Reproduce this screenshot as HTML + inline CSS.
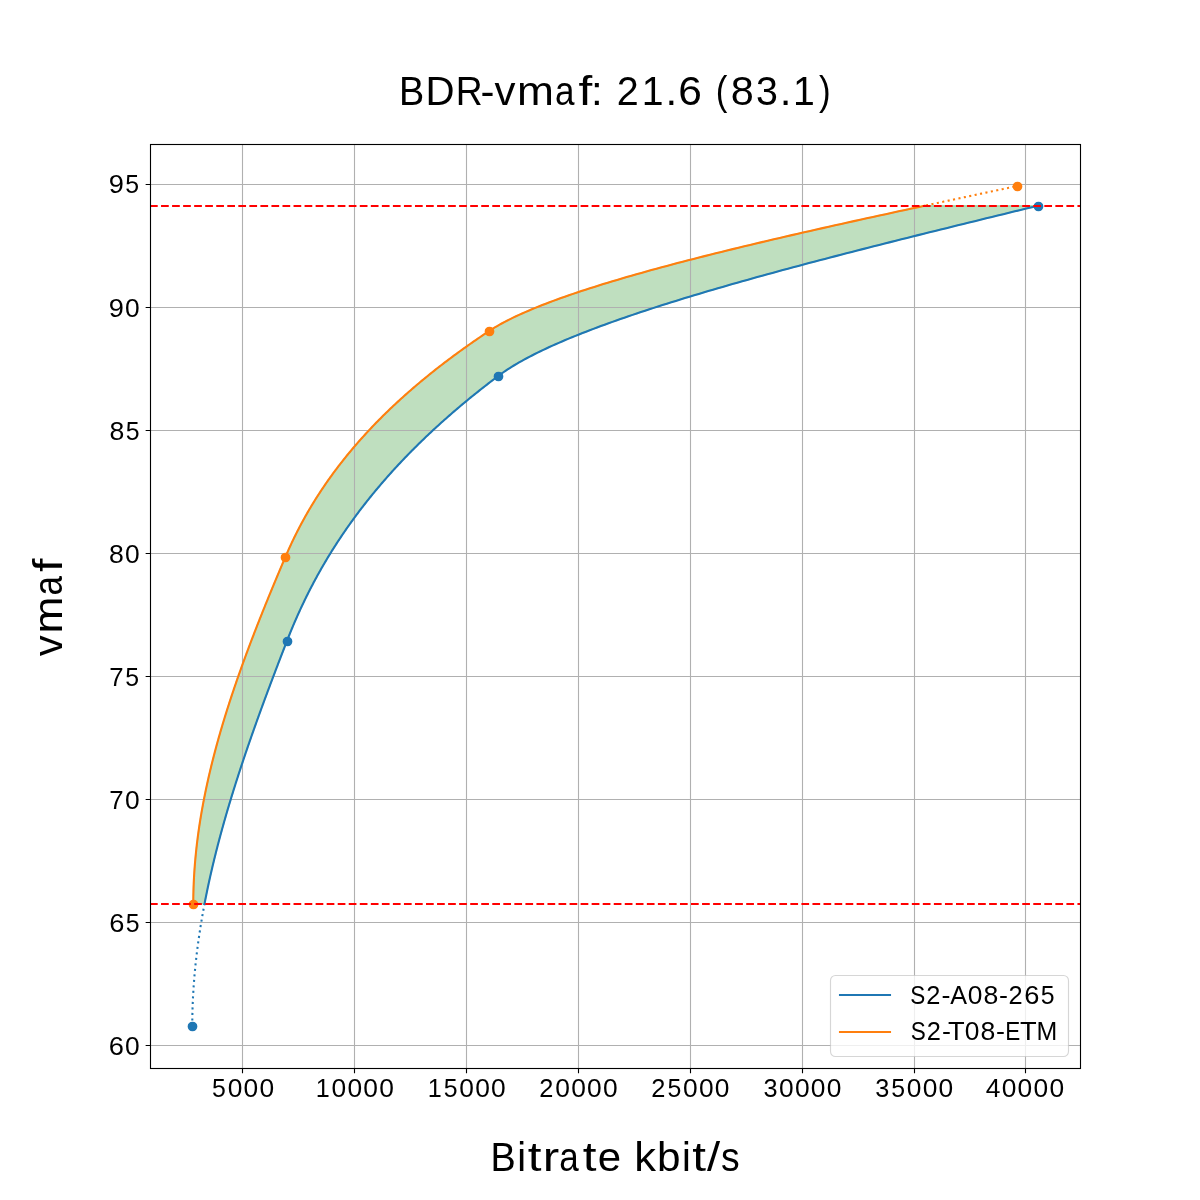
<!DOCTYPE html>
<html><head><meta charset="utf-8"><title>BDR-vmaf</title><style>
html,body{margin:0;padding:0;background:#fff;width:1200px;height:1200px;overflow:hidden}
svg{display:block}
svg{will-change:transform}
text{font-family:"Liberation Sans",sans-serif;fill:#000}
</style></head><body>
<svg width="1200" height="1200" viewBox="0 0 1200 1200">
<rect width="1200" height="1200" fill="#fff"/>
<path d="M193.27,903.87 L193.28,902.12 L193.29,900.37 L193.30,898.62 L193.32,896.87 L193.35,895.12 L193.39,893.37 L193.43,891.62 L193.48,889.87 L193.53,888.12 L193.59,886.37 L193.66,884.62 L193.73,882.87 L193.81,881.13 L193.90,879.38 L193.99,877.63 L194.09,875.88 L194.19,874.13 L194.30,872.38 L194.42,870.63 L194.54,868.88 L194.67,867.13 L194.80,865.38 L194.94,863.63 L195.09,861.88 L195.24,860.13 L195.40,858.38 L195.56,856.63 L195.73,854.88 L195.91,853.13 L196.09,851.38 L196.27,849.63 L196.46,847.88 L196.66,846.13 L196.86,844.38 L197.07,842.63 L197.29,840.88 L197.51,839.13 L197.73,837.38 L197.96,835.63 L198.20,833.88 L198.44,832.13 L198.69,830.39 L198.94,828.64 L199.20,826.89 L199.46,825.14 L199.73,823.39 L200.00,821.64 L200.28,819.89 L200.57,818.14 L200.85,816.39 L201.15,814.64 L201.45,812.89 L201.75,811.14 L202.06,809.39 L202.38,807.64 L202.70,805.89 L203.02,804.14 L203.35,802.39 L203.68,800.64 L204.02,798.89 L204.37,797.14 L204.72,795.39 L205.07,793.64 L205.43,791.89 L205.79,790.14 L206.16,788.39 L206.53,786.64 L206.91,784.89 L207.29,783.14 L207.68,781.39 L208.07,779.64 L208.46,777.90 L208.86,776.15 L209.27,774.40 L209.68,772.65 L210.09,770.90 L210.51,769.15 L210.93,767.40 L211.36,765.65 L211.79,763.90 L212.22,762.15 L212.66,760.40 L213.11,758.65 L213.56,756.90 L214.01,755.15 L214.46,753.40 L214.92,751.65 L215.39,749.90 L215.86,748.15 L216.33,746.40 L216.81,744.65 L217.29,742.90 L217.77,741.15 L218.26,739.40 L218.75,737.65 L219.25,735.90 L219.75,734.15 L220.25,732.40 L220.76,730.65 L221.27,728.90 L221.79,727.15 L222.31,725.41 L222.83,723.66 L223.36,721.91 L223.89,720.16 L224.42,718.41 L224.96,716.66 L225.50,714.91 L226.04,713.16 L226.59,711.41 L227.14,709.66 L227.70,707.91 L228.26,706.16 L228.82,704.41 L229.38,702.66 L229.95,700.91 L230.52,699.16 L231.10,697.41 L231.67,695.66 L232.25,693.91 L232.84,692.16 L233.43,690.41 L234.02,688.66 L234.61,686.91 L235.21,685.16 L235.81,683.41 L236.41,681.66 L237.02,679.91 L237.62,678.16 L238.24,676.41 L238.85,674.66 L239.47,672.92 L240.09,671.17 L240.71,669.42 L241.34,667.67 L241.97,665.92 L242.60,664.17 L243.23,662.42 L243.87,660.67 L244.51,658.92 L245.15,657.17 L245.79,655.42 L246.44,653.67 L247.09,651.92 L247.74,650.17 L248.40,648.42 L249.06,646.67 L249.71,644.92 L250.38,643.17 L251.04,641.42 L251.71,639.67 L252.38,637.92 L253.05,636.17 L253.72,634.42 L254.40,632.67 L255.08,630.92 L255.76,629.17 L256.44,627.42 L257.12,625.67 L257.81,623.92 L258.50,622.17 L259.19,620.43 L259.88,618.68 L260.58,616.93 L261.27,615.18 L261.97,613.43 L262.67,611.68 L263.37,609.93 L264.08,608.18 L264.78,606.43 L265.49,604.68 L266.20,602.93 L266.91,601.18 L267.63,599.43 L268.34,597.68 L269.06,595.93 L269.77,594.18 L270.49,592.43 L271.21,590.68 L271.94,588.93 L272.66,587.18 L273.39,585.43 L274.11,583.68 L274.84,581.93 L275.57,580.18 L276.30,578.43 L277.03,576.68 L277.77,574.93 L278.50,573.18 L279.24,571.43 L279.98,569.68 L280.72,567.94 L281.46,566.19 L282.20,564.44 L282.94,562.69 L283.68,560.94 L284.43,559.19 L285.17,557.44 L285.92,555.69 L286.68,553.94 L287.45,552.19 L288.23,550.44 L289.01,548.69 L289.81,546.94 L290.62,545.19 L291.43,543.44 L292.26,541.69 L293.09,539.94 L293.94,538.19 L294.80,536.44 L295.66,534.69 L296.54,532.94 L297.43,531.19 L298.32,529.44 L299.23,527.69 L300.15,525.94 L301.08,524.19 L302.02,522.44 L302.97,520.69 L303.93,518.94 L304.90,517.20 L305.89,515.45 L306.88,513.70 L307.89,511.95 L308.91,510.20 L309.94,508.45 L310.98,506.70 L312.03,504.95 L313.10,503.20 L314.17,501.45 L315.26,499.70 L316.36,497.95 L317.47,496.20 L318.60,494.45 L319.74,492.70 L320.89,490.95 L322.05,489.20 L323.22,487.45 L324.41,485.70 L325.61,483.95 L326.82,482.20 L328.04,480.45 L329.28,478.70 L330.53,476.95 L331.80,475.20 L333.07,473.45 L334.36,471.70 L335.67,469.95 L336.98,468.20 L338.32,466.45 L339.66,464.71 L341.02,462.96 L342.39,461.21 L343.77,459.46 L345.17,457.71 L346.59,455.96 L348.02,454.21 L349.46,452.46 L350.91,450.71 L352.38,448.96 L353.87,447.21 L355.37,445.46 L356.88,443.71 L358.41,441.96 L359.96,440.21 L361.51,438.46 L363.09,436.71 L364.68,434.96 L366.28,433.21 L367.90,431.46 L369.53,429.71 L371.18,427.96 L372.85,426.21 L374.53,424.46 L376.23,422.71 L377.94,420.96 L379.66,419.21 L381.41,417.46 L383.17,415.71 L384.94,413.96 L386.74,412.22 L388.54,410.47 L390.37,408.72 L392.21,406.97 L394.07,405.22 L395.94,403.47 L397.83,401.72 L399.74,399.97 L401.66,398.22 L403.60,396.47 L405.56,394.72 L407.54,392.97 L409.53,391.22 L411.54,389.47 L413.57,387.72 L415.61,385.97 L417.67,384.22 L419.75,382.47 L421.85,380.72 L423.96,378.97 L426.10,377.22 L428.25,375.47 L430.42,373.72 L432.60,371.97 L434.81,370.22 L437.03,368.47 L439.27,366.72 L441.53,364.97 L443.81,363.22 L446.11,361.47 L448.42,359.73 L450.76,357.98 L453.11,356.23 L455.48,354.48 L457.88,352.73 L460.29,350.98 L462.72,349.23 L465.17,347.48 L467.63,345.73 L470.12,343.98 L472.63,342.23 L475.16,340.48 L477.70,338.73 L480.27,336.98 L482.86,335.23 L485.46,333.48 L488.09,331.73 L490.75,329.98 L493.54,328.23 L496.46,326.48 L499.51,324.73 L502.68,322.98 L505.99,321.23 L509.42,319.48 L512.97,317.73 L516.65,315.98 L520.45,314.23 L524.37,312.48 L528.40,310.73 L532.56,308.98 L536.82,307.24 L541.20,305.49 L545.69,303.74 L550.29,301.99 L555.00,300.24 L559.81,298.49 L564.73,296.74 L569.75,294.99 L574.87,293.24 L580.10,291.49 L585.42,289.74 L590.84,287.99 L596.35,286.24 L601.95,284.49 L607.65,282.74 L613.44,280.99 L619.32,279.24 L625.28,277.49 L631.33,275.74 L637.46,273.99 L643.67,272.24 L649.97,270.49 L656.34,268.74 L662.79,266.99 L669.32,265.24 L675.92,263.49 L682.59,261.74 L689.33,259.99 L696.14,258.24 L703.02,256.49 L709.97,254.75 L716.98,253.00 L724.05,251.25 L731.18,249.50 L738.37,247.75 L745.62,246.00 L752.93,244.25 L760.29,242.50 L767.70,240.75 L775.16,239.00 L782.68,237.25 L790.24,235.50 L797.85,233.75 L805.50,232.00 L813.19,230.25 L820.93,228.50 L828.71,226.75 L836.52,225.00 L844.37,223.25 L852.26,221.50 L860.18,219.75 L868.13,218.00 L876.11,216.25 L884.12,214.50 L892.16,212.75 L900.22,211.00 L908.31,209.25 L916.41,207.50 L924.54,205.75 L1037.73,205.75 L1030.56,207.50 L1023.39,209.25 L1016.22,211.00 L1009.06,212.75 L1001.90,214.50 L994.75,216.25 L987.60,218.00 L980.46,219.75 L973.33,221.50 L966.21,223.25 L959.10,225.00 L952.01,226.75 L944.92,228.50 L937.85,230.25 L930.80,232.00 L923.75,233.75 L916.73,235.50 L909.73,237.25 L902.74,239.00 L895.77,240.75 L888.83,242.50 L881.90,244.25 L875.00,246.00 L868.12,247.75 L861.27,249.50 L854.44,251.25 L847.64,253.00 L840.87,254.75 L834.13,256.49 L827.41,258.24 L820.73,259.99 L814.08,261.74 L807.47,263.49 L800.88,265.24 L794.33,266.99 L787.82,268.74 L781.35,270.49 L774.91,272.24 L768.51,273.99 L762.15,275.74 L755.84,277.49 L749.56,279.24 L743.33,280.99 L737.14,282.74 L731.00,284.49 L724.91,286.24 L718.86,287.99 L712.86,289.74 L706.90,291.49 L701.00,293.24 L695.15,294.99 L689.36,296.74 L683.61,298.49 L677.92,300.24 L672.29,301.99 L666.71,303.74 L661.18,305.49 L655.72,307.24 L650.32,308.98 L644.97,310.73 L639.69,312.48 L634.47,314.23 L629.32,315.98 L624.22,317.73 L619.20,319.48 L614.24,321.23 L609.34,322.98 L604.52,324.73 L599.76,326.48 L595.08,328.23 L590.47,329.98 L585.93,331.73 L581.46,333.48 L577.07,335.23 L572.75,336.98 L568.51,338.73 L564.34,340.48 L560.26,342.23 L556.25,343.98 L552.33,345.73 L548.49,347.48 L544.73,349.23 L541.05,350.98 L537.46,352.73 L533.95,354.48 L530.53,356.23 L527.20,357.98 L523.96,359.73 L520.80,361.47 L517.74,363.22 L514.77,364.97 L511.89,366.72 L509.11,368.47 L506.42,370.22 L503.82,371.97 L501.32,373.72 L498.92,375.47 L496.60,377.22 L494.28,378.97 L491.99,380.72 L489.70,382.47 L487.44,384.22 L485.19,385.97 L482.95,387.72 L480.73,389.47 L478.52,391.22 L476.33,392.97 L474.15,394.72 L471.99,396.47 L469.84,398.22 L467.70,399.97 L465.58,401.72 L463.48,403.47 L461.39,405.22 L459.31,406.97 L457.25,408.72 L455.20,410.47 L453.17,412.22 L451.15,413.96 L449.14,415.71 L447.15,417.46 L445.17,419.21 L443.21,420.96 L441.26,422.71 L439.32,424.46 L437.40,426.21 L435.49,427.96 L433.59,429.71 L431.71,431.46 L429.84,433.21 L427.98,434.96 L426.14,436.71 L424.31,438.46 L422.50,440.21 L420.70,441.96 L418.91,443.71 L417.13,445.46 L415.37,447.21 L413.62,448.96 L411.88,450.71 L410.15,452.46 L408.44,454.21 L406.74,455.96 L405.05,457.71 L403.38,459.46 L401.72,461.21 L400.07,462.96 L398.43,464.71 L396.81,466.45 L395.19,468.20 L393.59,469.95 L392.01,471.70 L390.43,473.45 L388.87,475.20 L387.31,476.95 L385.77,478.70 L384.25,480.45 L382.73,482.20 L381.23,483.95 L379.73,485.70 L378.25,487.45 L376.78,489.20 L375.33,490.95 L373.88,492.70 L372.44,494.45 L371.02,496.20 L369.61,497.95 L368.21,499.70 L366.82,501.45 L365.44,503.20 L364.07,504.95 L362.71,506.70 L361.37,508.45 L360.03,510.20 L358.71,511.95 L357.40,513.70 L356.09,515.45 L354.80,517.20 L353.52,518.94 L352.25,520.69 L350.99,522.44 L349.74,524.19 L348.50,525.94 L347.27,527.69 L346.05,529.44 L344.84,531.19 L343.65,532.94 L342.46,534.69 L341.28,536.44 L340.11,538.19 L338.95,539.94 L337.81,541.69 L336.67,543.44 L335.54,545.19 L334.42,546.94 L333.31,548.69 L332.21,550.44 L331.12,552.19 L330.04,553.94 L328.97,555.69 L327.90,557.44 L326.85,559.19 L325.81,560.94 L324.77,562.69 L323.75,564.44 L322.73,566.19 L321.72,567.94 L320.72,569.68 L319.74,571.43 L318.75,573.18 L317.78,574.93 L316.82,576.68 L315.86,578.43 L314.92,580.18 L313.98,581.93 L313.05,583.68 L312.13,585.43 L311.22,587.18 L310.32,588.93 L309.42,590.68 L308.53,592.43 L307.65,594.18 L306.78,595.93 L305.92,597.68 L305.06,599.43 L304.22,601.18 L303.38,602.93 L302.55,604.68 L301.72,606.43 L300.91,608.18 L300.10,609.93 L299.30,611.68 L298.50,613.43 L297.72,615.18 L296.94,616.93 L296.17,618.68 L295.40,620.43 L294.65,622.17 L293.90,623.92 L293.15,625.67 L292.42,627.42 L291.69,629.17 L290.97,630.92 L290.25,632.67 L289.54,634.42 L288.84,636.17 L288.15,637.92 L287.46,639.67 L286.78,641.42 L286.10,643.17 L285.42,644.92 L284.74,646.67 L284.07,648.42 L283.39,650.17 L282.71,651.92 L282.04,653.67 L281.36,655.42 L280.69,657.17 L280.02,658.92 L279.35,660.67 L278.67,662.42 L278.00,664.17 L277.34,665.92 L276.67,667.67 L276.00,669.42 L275.33,671.17 L274.67,672.92 L274.00,674.66 L273.34,676.41 L272.68,678.16 L272.02,679.91 L271.36,681.66 L270.70,683.41 L270.04,685.16 L269.39,686.91 L268.73,688.66 L268.08,690.41 L267.42,692.16 L266.77,693.91 L266.12,695.66 L265.47,697.41 L264.83,699.16 L264.18,700.91 L263.54,702.66 L262.89,704.41 L262.25,706.16 L261.61,707.91 L260.97,709.66 L260.33,711.41 L259.70,713.16 L259.07,714.91 L258.43,716.66 L257.80,718.41 L257.17,720.16 L256.54,721.91 L255.92,723.66 L255.29,725.41 L254.67,727.15 L254.05,728.90 L253.43,730.65 L252.81,732.40 L252.20,734.15 L251.58,735.90 L250.97,737.65 L250.36,739.40 L249.75,741.15 L249.15,742.90 L248.54,744.65 L247.94,746.40 L247.34,748.15 L246.74,749.90 L246.14,751.65 L245.55,753.40 L244.96,755.15 L244.37,756.90 L243.78,758.65 L243.19,760.40 L242.61,762.15 L242.03,763.90 L241.45,765.65 L240.87,767.40 L240.30,769.15 L239.72,770.90 L239.15,772.65 L238.58,774.40 L238.02,776.15 L237.46,777.90 L236.89,779.64 L236.34,781.39 L235.78,783.14 L235.23,784.89 L234.67,786.64 L234.13,788.39 L233.58,790.14 L233.04,791.89 L232.49,793.64 L231.96,795.39 L231.42,797.14 L230.89,798.89 L230.36,800.64 L229.83,802.39 L229.30,804.14 L228.78,805.89 L228.26,807.64 L227.74,809.39 L227.23,811.14 L226.72,812.89 L226.21,814.64 L225.70,816.39 L225.20,818.14 L224.70,819.89 L224.20,821.64 L223.71,823.39 L223.21,825.14 L222.73,826.89 L222.24,828.64 L221.76,830.39 L221.28,832.13 L220.80,833.88 L220.33,835.63 L219.86,837.38 L219.39,839.13 L218.93,840.88 L218.47,842.63 L218.01,844.38 L217.56,846.13 L217.11,847.88 L216.66,849.63 L216.21,851.38 L215.77,853.13 L215.34,854.88 L214.90,856.63 L214.47,858.38 L214.04,860.13 L213.62,861.88 L213.20,863.63 L212.78,865.38 L212.37,867.13 L211.96,868.88 L211.55,870.63 L211.15,872.38 L210.75,874.13 L210.35,875.88 L209.96,877.63 L209.57,879.38 L209.19,881.13 L208.81,882.87 L208.43,884.62 L208.06,886.37 L207.69,888.12 L207.32,889.87 L206.96,891.62 L206.60,893.37 L206.24,895.12 L205.89,896.87 L205.55,898.62 L205.20,900.37 L204.86,902.12 L204.53,903.87 Z" fill="#008000" fill-opacity="0.25" stroke="#008000" stroke-opacity="0.25" stroke-width="1.389" stroke-linejoin="round"/>
<path d="M242.5,144 V1068 M354.5,144 V1068 M466.5,144 V1068 M578.5,144 V1068 M690.5,144 V1068 M802.5,144 V1068 M914.5,144 V1068 M1025.5,144 V1068 M150,1045.5 H1080 M150,922.5 H1080 M150,799.5 H1080 M150,676.5 H1080 M150,553.5 H1080 M150,430.5 H1080 M150,307.5 H1080 M150,184.5 H1080" stroke="#b0b0b0" stroke-width="1.11" fill="none"/>
<path d="M192.27,1026.00 L192.27,1024.97 L192.28,1023.95 L192.28,1022.92 L192.29,1021.89 L192.30,1020.87 L192.31,1019.84 L192.32,1018.82 L192.33,1017.79 L192.35,1016.76 L192.37,1015.74 L192.39,1014.71 L192.41,1013.68 L192.43,1012.66 L192.46,1011.63 L192.49,1010.61 L192.51,1009.58 L192.55,1008.55 L192.58,1007.53 L192.61,1006.50 L192.65,1005.47 L192.69,1004.45 L192.73,1003.42 L192.77,1002.40 L192.81,1001.37 L192.86,1000.34 L192.91,999.32 L192.95,998.29 L193.00,997.26 L193.06,996.24 L193.11,995.21 L193.17,994.18 L193.23,993.16 L193.29,992.13 L193.35,991.11 L193.41,990.08 L193.48,989.05 L193.54,988.03 L193.61,987.00 L193.68,985.97 L193.75,984.95 L193.83,983.92 L193.90,982.90 L193.98,981.87 L194.06,980.84 L194.14,979.82 L194.22,978.79 L194.30,977.76 L194.39,976.74 L194.48,975.71 L194.57,974.69 L194.66,973.66 L194.75,972.63 L194.84,971.61 L194.94,970.58 L195.04,969.55 L195.14,968.53 L195.24,967.50 L195.34,966.47 L195.44,965.45 L195.55,964.42 L195.66,963.40 L195.76,962.37 L195.88,961.34 L195.99,960.32 L196.10,959.29 L196.22,958.26 L196.33,957.24 L196.45,956.21 L196.57,955.19 L196.69,954.16 L196.82,953.13 L196.94,952.11 L197.07,951.08 L197.20,950.05 L197.33,949.03 L197.46,948.00 L197.59,946.98 L197.73,945.95 L197.86,944.92 L198.00,943.90 L198.14,942.87 L198.28,941.84 L198.42,940.82 L198.57,939.79 L198.71,938.76 L198.86,937.74 L199.01,936.71 L199.16,935.69 L199.31,934.66 L199.46,933.63 L199.61,932.61 L199.77,931.58 L199.93,930.55 L200.09,929.53 L200.25,928.50 L200.41,927.48 L200.57,926.45 L200.74,925.42 L200.90,924.40 L201.07,923.37 L201.24,922.34 L201.41,921.32 L201.58,920.29 L201.76,919.27 L201.93,918.24 L202.11,917.21 L202.29,916.19 L202.46,915.16 L202.65,914.13 L202.83,913.11 L203.01,912.08 L203.20,911.05 L203.38,910.03 L203.57,909.00 L203.76,907.98 L203.95,906.95 L204.14,905.92 L204.33,904.90 L204.53,903.87" stroke="#1f77b4" stroke-width="2.083" fill="none" stroke-dasharray="2.083 3.438" stroke-linejoin="round"/>
<path d="M204.53,903.87 L204.80,902.47 L205.07,901.07 L205.34,899.67 L205.61,898.27 L205.89,896.88 L206.17,895.48 L206.45,894.08 L206.74,892.68 L207.03,891.28 L207.32,889.88 L207.61,888.48 L207.90,887.08 L208.20,885.68 L208.50,884.28 L208.80,882.89 L209.11,881.49 L209.42,880.09 L209.72,878.69 L210.04,877.29 L210.35,875.89 L210.67,874.49 L210.98,873.09 L211.31,871.69 L211.63,870.29 L211.95,868.90 L212.28,867.50 L212.61,866.10 L212.94,864.70 L213.28,863.30 L213.61,861.90 L213.95,860.50 L214.29,859.10 L214.64,857.70 L214.98,856.30 L215.33,854.90 L215.68,853.51 L216.03,852.11 L216.38,850.71 L216.74,849.31 L217.10,847.91 L217.46,846.51 L217.82,845.11 L218.19,843.71 L218.55,842.31 L218.92,840.91 L219.29,839.52 L219.66,838.12 L220.04,836.72 L220.41,835.32 L220.79,833.92 L221.17,832.52 L221.56,831.12 L221.94,829.72 L222.33,828.32 L222.72,826.92 L223.11,825.53 L223.50,824.13 L223.89,822.73 L224.29,821.33 L224.69,819.93 L225.09,818.53 L225.49,817.13 L225.89,815.73 L226.30,814.33 L226.70,812.93 L227.11,811.53 L227.52,810.14 L227.93,808.74 L228.35,807.34 L228.76,805.94 L229.18,804.54 L229.60,803.14 L230.02,801.74 L230.45,800.34 L230.87,798.94 L231.30,797.54 L231.72,796.15 L232.15,794.75 L232.59,793.35 L233.02,791.95 L233.45,790.55 L233.89,789.15 L234.33,787.75 L234.77,786.35 L235.21,784.95 L235.65,783.55 L236.09,782.16 L236.54,780.76 L236.99,779.36 L237.44,777.96 L237.89,776.56 L238.34,775.16 L238.79,773.76 L239.25,772.36 L239.70,770.96 L240.16,769.56 L240.62,768.16 L241.08,766.77 L241.54,765.37 L242.00,763.97 L242.47,762.57 L242.94,761.17 L243.40,759.77 L243.87,758.37 L244.34,756.97 L244.81,755.57 L245.29,754.17 L245.76,752.78 L246.24,751.38 L246.71,749.98 L247.19,748.58 L247.67,747.18 L248.15,745.78 L248.64,744.38 L249.12,742.98 L249.60,741.58 L250.09,740.18 L250.58,738.79 L251.06,737.39 L251.55,735.99 L252.04,734.59 L252.54,733.19 L253.03,731.79 L253.52,730.39 L254.02,728.99 L254.52,727.59 L255.01,726.19 L255.51,724.80 L256.01,723.40 L256.51,722.00 L257.01,720.60 L257.52,719.20 L258.02,717.80 L258.52,716.40 L259.03,715.00 L259.54,713.60 L260.05,712.20 L260.55,710.80 L261.06,709.41 L261.58,708.01 L262.09,706.61 L262.60,705.21 L263.11,703.81 L263.63,702.41 L264.14,701.01 L264.66,699.61 L265.18,698.21 L265.69,696.81 L266.21,695.42 L266.73,694.02 L267.25,692.62 L267.78,691.22 L268.30,689.82 L268.82,688.42 L269.34,687.02 L269.87,685.62 L270.40,684.22 L270.92,682.82 L271.45,681.43 L271.98,680.03 L272.50,678.63 L273.03,677.23 L273.56,675.83 L274.09,674.43 L274.62,673.03 L275.16,671.63 L275.69,670.23 L276.22,668.83 L276.76,667.43 L277.29,666.04 L277.82,664.64 L278.36,663.24 L278.90,661.84 L279.43,660.44 L279.97,659.04 L280.51,657.64 L281.05,656.24 L281.59,654.84 L282.12,653.44 L282.66,652.05 L283.20,650.65 L283.75,649.25 L284.29,647.85 L284.83,646.45 L285.37,645.05 L285.91,643.65 L286.46,642.25 L287.00,640.85 L287.55,639.45 L288.10,638.06 L288.65,636.66 L289.21,635.26 L289.77,633.86 L290.34,632.46 L290.91,631.06 L291.49,629.66 L292.07,628.26 L292.65,626.86 L293.24,625.46 L293.84,624.06 L294.43,622.67 L295.04,621.27 L295.65,619.87 L296.26,618.47 L296.87,617.07 L297.50,615.67 L298.12,614.27 L298.75,612.87 L299.39,611.47 L300.03,610.07 L300.68,608.68 L301.33,607.28 L301.98,605.88 L302.64,604.48 L303.31,603.08 L303.98,601.68 L304.65,600.28 L305.33,598.88 L306.02,597.48 L306.71,596.08 L307.40,594.69 L308.10,593.29 L308.81,591.89 L309.52,590.49 L310.23,589.09 L310.96,587.69 L311.68,586.29 L312.42,584.89 L313.15,583.49 L313.90,582.09 L314.64,580.69 L315.40,579.30 L316.16,577.90 L316.92,576.50 L317.69,575.10 L318.47,573.70 L319.25,572.30 L320.04,570.90 L320.83,569.50 L321.63,568.10 L322.43,566.70 L323.24,565.31 L324.06,563.91 L324.88,562.51 L325.71,561.11 L326.54,559.71 L327.38,558.31 L328.22,556.91 L329.07,555.51 L329.93,554.11 L330.79,552.71 L331.66,551.32 L332.54,549.92 L333.42,548.52 L334.30,547.12 L335.20,545.72 L336.10,544.32 L337.00,542.92 L337.92,541.52 L338.83,540.12 L339.76,538.72 L340.69,537.32 L341.63,535.93 L342.57,534.53 L343.52,533.13 L344.48,531.73 L345.44,530.33 L346.41,528.93 L347.38,527.53 L348.37,526.13 L349.36,524.73 L350.35,523.33 L351.36,521.94 L352.36,520.54 L353.38,519.14 L354.40,517.74 L355.43,516.34 L356.47,514.94 L357.51,513.54 L358.56,512.14 L359.62,510.74 L360.68,509.34 L361.75,507.95 L362.83,506.55 L363.92,505.15 L365.01,503.75 L366.11,502.35 L367.21,500.95 L368.32,499.55 L369.44,498.15 L370.57,496.75 L371.71,495.35 L372.85,493.95 L374.00,492.56 L375.15,491.16 L376.32,489.76 L377.49,488.36 L378.67,486.96 L379.85,485.56 L381.05,484.16 L382.25,482.76 L383.46,481.36 L384.67,479.96 L385.89,478.57 L387.13,477.17 L388.36,475.77 L389.61,474.37 L390.86,472.97 L392.13,471.57 L393.40,470.17 L394.67,468.77 L395.96,467.37 L397.25,465.97 L398.55,464.58 L399.86,463.18 L401.18,461.78 L402.50,460.38 L403.83,458.98 L405.17,457.58 L406.52,456.18 L407.88,454.78 L409.24,453.38 L410.62,451.98 L412.00,450.59 L413.39,449.19 L414.79,447.79 L416.19,446.39 L417.61,444.99 L419.03,443.59 L420.46,442.19 L421.90,440.79 L423.34,439.39 L424.80,437.99 L426.26,436.59 L427.74,435.20 L429.22,433.80 L430.71,432.40 L432.21,431.00 L433.71,429.60 L435.23,428.20 L436.75,426.80 L438.29,425.40 L439.83,424.00 L441.38,422.60 L442.94,421.21 L444.50,419.81 L446.08,418.41 L447.67,417.01 L449.26,415.61 L450.87,414.21 L452.48,412.81 L454.10,411.41 L455.73,410.01 L457.37,408.61 L459.02,407.22 L460.67,405.82 L462.34,404.42 L464.02,403.02 L465.70,401.62 L467.40,400.22 L469.10,398.82 L470.81,397.42 L472.54,396.02 L474.27,394.62 L476.01,393.22 L477.76,391.83 L479.52,390.43 L481.29,389.03 L483.07,387.63 L484.85,386.23 L486.65,384.83 L488.46,383.43 L490.27,382.03 L492.10,380.63 L493.94,379.23 L495.78,377.84 L497.64,376.44 L499.51,375.04 L501.44,373.64 L503.44,372.24 L505.49,370.84 L507.61,369.44 L509.78,368.04 L512.02,366.64 L514.32,365.24 L516.68,363.85 L519.09,362.45 L521.57,361.05 L524.10,359.65 L526.69,358.25 L529.33,356.85 L532.04,355.45 L534.79,354.05 L537.61,352.65 L540.48,351.25 L543.40,349.85 L546.37,348.46 L549.40,347.06 L552.49,345.66 L555.62,344.26 L558.81,342.86 L562.04,341.46 L565.33,340.06 L568.67,338.66 L572.05,337.26 L575.49,335.86 L578.98,334.47 L582.51,333.07 L586.09,331.67 L589.71,330.27 L593.39,328.87 L597.11,327.47 L600.87,326.07 L604.68,324.67 L608.54,323.27 L612.43,321.87 L616.38,320.48 L620.36,319.08 L624.39,317.68 L628.45,316.28 L632.56,314.88 L636.71,313.48 L640.90,312.08 L645.13,310.68 L649.40,309.28 L653.71,307.88 L658.06,306.48 L662.44,305.09 L666.86,303.69 L671.32,302.29 L675.81,300.89 L680.34,299.49 L684.91,298.09 L689.51,296.69 L694.14,295.29 L698.80,293.89 L703.50,292.49 L708.24,291.10 L713.00,289.70 L717.80,288.30 L722.62,286.90 L727.48,285.50 L732.36,284.10 L737.28,282.70 L742.22,281.30 L747.20,279.90 L752.20,278.50 L757.23,277.11 L762.28,275.71 L767.36,274.31 L772.47,272.91 L777.60,271.51 L782.76,270.11 L787.94,268.71 L793.14,267.31 L798.37,265.91 L803.62,264.51 L808.89,263.11 L814.19,261.72 L819.50,260.32 L824.84,258.92 L830.20,257.52 L835.57,256.12 L840.97,254.72 L846.38,253.32 L851.81,251.92 L857.26,250.52 L862.72,249.12 L868.20,247.73 L873.70,246.33 L879.22,244.93 L884.74,243.53 L890.29,242.13 L895.84,240.73 L901.41,239.33 L906.99,237.93 L912.59,236.53 L918.19,235.13 L923.81,233.74 L929.44,232.34 L935.08,230.94 L940.73,229.54 L946.38,228.14 L952.05,226.74 L957.72,225.34 L963.41,223.94 L969.09,222.54 L974.79,221.14 L980.49,219.75 L986.20,218.35 L991.91,216.95 L997.63,215.55 L1003.35,214.15 L1009.07,212.75 L1014.80,211.35 L1020.53,209.95 L1026.26,208.55 L1031.99,207.15 L1037.73,205.75" stroke="#1f77b4" stroke-width="2.083" fill="none" stroke-linecap="square" stroke-linejoin="round"/>
<circle cx="192.5" cy="1026.5" r="4.167" fill="#1f77b4" stroke="#1f77b4" stroke-width="1.389"/>
<circle cx="287.5" cy="641.5" r="4.167" fill="#1f77b4" stroke="#1f77b4" stroke-width="1.389"/>
<circle cx="498.5" cy="376.5" r="4.167" fill="#1f77b4" stroke="#1f77b4" stroke-width="1.389"/>
<circle cx="1038.5" cy="206.5" r="4.167" fill="#1f77b4" stroke="#1f77b4" stroke-width="1.389"/>
<path d="M924.54,205.75 L925.31,205.59 L926.09,205.42 L926.86,205.26 L927.63,205.09 L928.41,204.92 L929.18,204.76 L929.95,204.59 L930.72,204.43 L931.50,204.26 L932.27,204.09 L933.05,203.93 L933.82,203.76 L934.59,203.60 L935.37,203.43 L936.14,203.26 L936.92,203.10 L937.69,202.93 L938.47,202.77 L939.24,202.60 L940.02,202.43 L940.79,202.27 L941.57,202.10 L942.34,201.94 L943.12,201.77 L943.89,201.60 L944.67,201.44 L945.45,201.27 L946.22,201.11 L947.00,200.94 L947.77,200.77 L948.55,200.61 L949.33,200.44 L950.10,200.28 L950.88,200.11 L951.66,199.94 L952.44,199.78 L953.21,199.61 L953.99,199.45 L954.77,199.28 L955.55,199.11 L956.32,198.95 L957.10,198.78 L957.88,198.62 L958.66,198.45 L959.44,198.28 L960.21,198.12 L960.99,197.95 L961.77,197.79 L962.55,197.62 L963.33,197.45 L964.11,197.29 L964.89,197.12 L965.67,196.96 L966.44,196.79 L967.22,196.62 L968.00,196.46 L968.78,196.29 L969.56,196.13 L970.34,195.96 L971.12,195.79 L971.90,195.63 L972.68,195.46 L973.46,195.30 L974.24,195.13 L975.02,194.96 L975.80,194.80 L976.58,194.63 L977.36,194.47 L978.14,194.30 L978.92,194.13 L979.70,193.97 L980.48,193.80 L981.26,193.64 L982.05,193.47 L982.83,193.30 L983.61,193.14 L984.39,192.97 L985.17,192.81 L985.95,192.64 L986.73,192.47 L987.51,192.31 L988.29,192.14 L989.07,191.98 L989.86,191.81 L990.64,191.64 L991.42,191.48 L992.20,191.31 L992.98,191.15 L993.76,190.98 L994.55,190.81 L995.33,190.65 L996.11,190.48 L996.89,190.32 L997.67,190.15 L998.45,189.98 L999.24,189.82 L1000.02,189.65 L1000.80,189.49 L1001.58,189.32 L1002.36,189.15 L1003.15,188.99 L1003.93,188.82 L1004.71,188.66 L1005.49,188.49 L1006.27,188.32 L1007.06,188.16 L1007.84,187.99 L1008.62,187.83 L1009.40,187.66 L1010.19,187.49 L1010.97,187.33 L1011.75,187.16 L1012.53,187.00 L1013.31,186.83 L1014.10,186.66 L1014.88,186.50 L1015.66,186.33 L1016.44,186.17 L1017.23,186.00" stroke="#ff7f0e" stroke-width="2.083" fill="none" stroke-dasharray="2.083 3.438" stroke-dashoffset="3.991" stroke-linejoin="round"/>
<path d="M193.27,903.87 L193.27,902.47 L193.28,901.07 L193.29,899.67 L193.31,898.27 L193.32,896.88 L193.35,895.48 L193.37,894.08 L193.41,892.68 L193.44,891.28 L193.48,889.88 L193.52,888.48 L193.57,887.08 L193.62,885.68 L193.68,884.28 L193.73,882.89 L193.80,881.49 L193.86,880.09 L193.94,878.69 L194.01,877.29 L194.09,875.89 L194.17,874.49 L194.26,873.09 L194.35,871.69 L194.44,870.29 L194.54,868.90 L194.64,867.50 L194.75,866.10 L194.86,864.70 L194.97,863.30 L195.09,861.90 L195.21,860.50 L195.33,859.10 L195.46,857.70 L195.59,856.30 L195.73,854.90 L195.87,853.51 L196.01,852.11 L196.16,850.71 L196.31,849.31 L196.46,847.91 L196.62,846.51 L196.78,845.11 L196.94,843.71 L197.11,842.31 L197.28,840.91 L197.46,839.52 L197.64,838.12 L197.82,836.72 L198.01,835.32 L198.19,833.92 L198.39,832.52 L198.58,831.12 L198.78,829.72 L198.99,828.32 L199.19,826.92 L199.40,825.53 L199.62,824.13 L199.83,822.73 L200.05,821.33 L200.28,819.93 L200.50,818.53 L200.73,817.13 L200.96,815.73 L201.20,814.33 L201.44,812.93 L201.68,811.53 L201.93,810.14 L202.18,808.74 L202.43,807.34 L202.69,805.94 L202.95,804.54 L203.21,803.14 L203.47,801.74 L203.74,800.34 L204.01,798.94 L204.29,797.54 L204.57,796.15 L204.85,794.75 L205.13,793.35 L205.42,791.95 L205.71,790.55 L206.00,789.15 L206.30,787.75 L206.59,786.35 L206.90,784.95 L207.20,783.55 L207.51,782.16 L207.82,780.76 L208.13,779.36 L208.45,777.96 L208.77,776.56 L209.09,775.16 L209.42,773.76 L209.74,772.36 L210.08,770.96 L210.41,769.56 L210.75,768.16 L211.09,766.77 L211.43,765.37 L211.77,763.97 L212.12,762.57 L212.47,761.17 L212.82,759.77 L213.18,758.37 L213.54,756.97 L213.90,755.57 L214.26,754.17 L214.63,752.78 L215.00,751.38 L215.37,749.98 L215.74,748.58 L216.12,747.18 L216.50,745.78 L216.88,744.38 L217.27,742.98 L217.65,741.58 L218.04,740.18 L218.43,738.79 L218.83,737.39 L219.23,735.99 L219.63,734.59 L220.03,733.19 L220.43,731.79 L220.84,730.39 L221.25,728.99 L221.66,727.59 L222.07,726.19 L222.49,724.80 L222.91,723.40 L223.33,722.00 L223.75,720.60 L224.18,719.20 L224.61,717.80 L225.04,716.40 L225.47,715.00 L225.90,713.60 L226.34,712.20 L226.78,710.80 L227.22,709.41 L227.67,708.01 L228.11,706.61 L228.56,705.21 L229.01,703.81 L229.46,702.41 L229.92,701.01 L230.37,699.61 L230.83,698.21 L231.29,696.81 L231.75,695.42 L232.22,694.02 L232.69,692.62 L233.16,691.22 L233.63,689.82 L234.10,688.42 L234.57,687.02 L235.05,685.62 L235.53,684.22 L236.01,682.82 L236.49,681.43 L236.98,680.03 L237.46,678.63 L237.95,677.23 L238.44,675.83 L238.93,674.43 L239.43,673.03 L239.92,671.63 L240.42,670.23 L240.92,668.83 L241.42,667.43 L241.92,666.04 L242.43,664.64 L242.93,663.24 L243.44,661.84 L243.95,660.44 L244.46,659.04 L244.98,657.64 L245.49,656.24 L246.01,654.84 L246.52,653.44 L247.04,652.05 L247.57,650.65 L248.09,649.25 L248.61,647.85 L249.14,646.45 L249.67,645.05 L250.19,643.65 L250.73,642.25 L251.26,640.85 L251.79,639.45 L252.33,638.06 L252.86,636.66 L253.40,635.26 L253.94,633.86 L254.48,632.46 L255.02,631.06 L255.57,629.66 L256.11,628.26 L256.66,626.86 L257.21,625.46 L257.75,624.06 L258.30,622.67 L258.86,621.27 L259.41,619.87 L259.96,618.47 L260.52,617.07 L261.08,615.67 L261.63,614.27 L262.19,612.87 L262.75,611.47 L263.31,610.07 L263.88,608.68 L264.44,607.28 L265.01,605.88 L265.57,604.48 L266.14,603.08 L266.71,601.68 L267.28,600.28 L267.85,598.88 L268.42,597.48 L268.99,596.08 L269.57,594.69 L270.14,593.29 L270.72,591.89 L271.29,590.49 L271.87,589.09 L272.45,587.69 L273.03,586.29 L273.61,584.89 L274.19,583.49 L274.77,582.09 L275.36,580.69 L275.94,579.30 L276.53,577.90 L277.11,576.50 L277.70,575.10 L278.29,573.70 L278.88,572.30 L279.46,570.90 L280.05,569.50 L280.65,568.10 L281.24,566.70 L281.83,565.31 L282.42,563.91 L283.02,562.51 L283.61,561.11 L284.20,559.71 L284.80,558.31 L285.40,556.91 L286.00,555.51 L286.60,554.11 L287.22,552.71 L287.84,551.32 L288.46,549.92 L289.09,548.52 L289.73,547.12 L290.37,545.72 L291.02,544.32 L291.68,542.92 L292.34,541.52 L293.01,540.12 L293.68,538.72 L294.36,537.32 L295.05,535.93 L295.74,534.53 L296.44,533.13 L297.15,531.73 L297.87,530.33 L298.59,528.93 L299.31,527.53 L300.05,526.13 L300.79,524.73 L301.54,523.33 L302.29,521.94 L303.06,520.54 L303.82,519.14 L304.60,517.74 L305.38,516.34 L306.17,514.94 L306.97,513.54 L307.78,512.14 L308.59,510.74 L309.41,509.34 L310.24,507.95 L311.07,506.55 L311.91,505.15 L312.76,503.75 L313.62,502.35 L314.48,500.95 L315.35,499.55 L316.23,498.15 L317.12,496.75 L318.02,495.35 L318.92,493.95 L319.83,492.56 L320.75,491.16 L321.68,489.76 L322.61,488.36 L323.55,486.96 L324.50,485.56 L325.46,484.16 L326.43,482.76 L327.40,481.36 L328.39,479.96 L329.38,478.57 L330.38,477.17 L331.39,475.77 L332.40,474.37 L333.43,472.97 L334.46,471.57 L335.50,470.17 L336.56,468.77 L337.61,467.37 L338.68,465.97 L339.76,464.58 L340.85,463.18 L341.94,461.78 L343.04,460.38 L344.16,458.98 L345.28,457.58 L346.41,456.18 L347.55,454.78 L348.69,453.38 L349.85,451.98 L351.02,450.59 L352.19,449.19 L353.38,447.79 L354.57,446.39 L355.77,444.99 L356.99,443.59 L358.21,442.19 L359.44,440.79 L360.68,439.39 L361.93,437.99 L363.19,436.59 L364.46,435.20 L365.74,433.80 L367.03,432.40 L368.33,431.00 L369.64,429.60 L370.96,428.20 L372.29,426.80 L373.62,425.40 L374.97,424.00 L376.33,422.60 L377.70,421.21 L379.08,419.81 L380.47,418.41 L381.87,417.01 L383.27,415.61 L384.69,414.21 L386.12,412.81 L387.56,411.41 L389.01,410.01 L390.48,408.61 L391.95,407.22 L393.43,405.82 L394.92,404.42 L396.42,403.02 L397.94,401.62 L399.46,400.22 L401.00,398.82 L402.54,397.42 L404.10,396.02 L405.67,394.62 L407.25,393.22 L408.84,391.83 L410.44,390.43 L412.05,389.03 L413.67,387.63 L415.31,386.23 L416.95,384.83 L418.61,383.43 L420.28,382.03 L421.95,380.63 L423.64,379.23 L425.35,377.84 L427.06,376.44 L428.78,375.04 L430.52,373.64 L432.27,372.24 L434.03,370.84 L435.80,369.44 L437.58,368.04 L439.38,366.64 L441.18,365.24 L443.00,363.85 L444.83,362.45 L446.67,361.05 L448.53,359.65 L450.39,358.25 L452.27,356.85 L454.16,355.45 L456.06,354.05 L457.98,352.65 L459.90,351.25 L461.84,349.85 L463.79,348.46 L465.76,347.06 L467.73,345.66 L469.72,344.26 L471.72,342.86 L473.74,341.46 L475.76,340.06 L477.80,338.66 L479.85,337.26 L481.92,335.86 L483.99,334.47 L486.08,333.07 L488.19,331.67 L490.31,330.27 L492.51,328.87 L494.79,327.47 L497.16,326.07 L499.61,324.67 L502.15,323.27 L504.76,321.87 L507.46,320.48 L510.24,319.08 L513.09,317.68 L516.02,316.28 L519.04,314.88 L522.12,313.48 L525.29,312.08 L528.53,310.68 L531.84,309.28 L535.23,307.88 L538.69,306.48 L542.22,305.09 L545.82,303.69 L549.49,302.29 L553.23,300.89 L557.04,299.49 L560.92,298.09 L564.86,296.69 L568.87,295.29 L572.94,293.89 L577.08,292.49 L581.28,291.10 L585.55,289.70 L589.87,288.30 L594.26,286.90 L598.71,285.50 L603.21,284.10 L607.78,282.70 L612.40,281.30 L617.08,279.90 L621.82,278.50 L626.61,277.11 L631.45,275.71 L636.35,274.31 L641.30,272.91 L646.30,271.51 L651.35,270.11 L656.46,268.71 L661.61,267.31 L666.81,265.91 L672.06,264.51 L677.36,263.11 L682.70,261.72 L688.08,260.32 L693.52,258.92 L698.99,257.52 L704.51,256.12 L710.07,254.72 L715.67,253.32 L721.31,251.92 L726.99,250.52 L732.70,249.12 L738.46,247.73 L744.25,246.33 L750.08,244.93 L755.94,243.53 L761.84,242.13 L767.77,240.73 L773.74,239.33 L779.74,237.93 L785.76,236.53 L791.82,235.13 L797.91,233.74 L804.02,232.34 L810.17,230.94 L816.34,229.54 L822.53,228.14 L828.75,226.74 L835.00,225.34 L841.27,223.94 L847.56,222.54 L853.88,221.14 L860.21,219.75 L866.57,218.35 L872.94,216.95 L879.34,215.55 L885.75,214.15 L892.18,212.75 L898.62,211.35 L905.08,209.95 L911.55,208.55 L918.04,207.15 L924.54,205.75" stroke="#ff7f0e" stroke-width="2.083" fill="none" stroke-linecap="square" stroke-linejoin="round"/>
<circle cx="193.5" cy="904.5" r="4.167" fill="#ff7f0e" stroke="#ff7f0e" stroke-width="1.389"/>
<circle cx="285.5" cy="557.5" r="4.167" fill="#ff7f0e" stroke="#ff7f0e" stroke-width="1.389"/>
<circle cx="489.5" cy="331.5" r="4.167" fill="#ff7f0e" stroke="#ff7f0e" stroke-width="1.389"/>
<circle cx="1017.5" cy="186.5" r="4.167" fill="#ff7f0e" stroke="#ff7f0e" stroke-width="1.389"/>
<path d="M150,206.00 H1080" stroke="#ff0000" stroke-width="2.083" stroke-dasharray="7.708 3.333" fill="none"/>
<path d="M150,904.00 H1080" stroke="#ff0000" stroke-width="2.083" stroke-dasharray="7.708 3.333" fill="none"/>
<rect x="150.5" y="144.5" width="930" height="924" fill="none" stroke="#000" stroke-width="1.111"/>
<path d="M242.5,1068.5 V1073.36 M354.5,1068.5 V1073.36 M466.5,1068.5 V1073.36 M578.5,1068.5 V1073.36 M690.5,1068.5 V1073.36 M802.5,1068.5 V1073.36 M914.5,1068.5 V1073.36 M1025.5,1068.5 V1073.36 M150.5,1045.5 H145.64 M150.5,922.5 H145.64 M150.5,799.5 H145.64 M150.5,676.5 H145.64 M150.5,553.5 H145.64 M150.5,430.5 H145.64 M150.5,307.5 H145.64 M150.5,184.5 H145.64" stroke="#000" stroke-width="1.111" fill="none"/>
<text y="0" font-size="26.50" transform="translate(242.93,1096.72)"><tspan x="-30.88" textLength="13.83" lengthAdjust="spacingAndGlyphs">5</tspan><tspan x="-15.29" textLength="14.66" lengthAdjust="spacingAndGlyphs">0</tspan><tspan x="0.62" textLength="14.66" lengthAdjust="spacingAndGlyphs">0</tspan><tspan x="16.52" textLength="14.66" lengthAdjust="spacingAndGlyphs">0</tspan></text>
<text y="0" font-size="26.50" transform="translate(354.78,1096.72)"><tspan x="-38.94" textLength="14.00" lengthAdjust="spacingAndGlyphs">1</tspan><tspan x="-23.24" textLength="14.66" lengthAdjust="spacingAndGlyphs">0</tspan><tspan x="-7.33" textLength="14.66" lengthAdjust="spacingAndGlyphs">0</tspan><tspan x="8.57" textLength="14.66" lengthAdjust="spacingAndGlyphs">0</tspan><tspan x="24.48" textLength="14.66" lengthAdjust="spacingAndGlyphs">0</tspan></text>
<text y="0" font-size="26.50" transform="translate(466.64,1096.72)"><tspan x="-38.94" textLength="14.00" lengthAdjust="spacingAndGlyphs">1</tspan><tspan x="-22.93" textLength="13.83" lengthAdjust="spacingAndGlyphs">5</tspan><tspan x="-7.33" textLength="14.66" lengthAdjust="spacingAndGlyphs">0</tspan><tspan x="8.57" textLength="14.66" lengthAdjust="spacingAndGlyphs">0</tspan><tspan x="24.48" textLength="14.66" lengthAdjust="spacingAndGlyphs">0</tspan></text>
<text y="0" font-size="26.50" transform="translate(578.50,1096.72)"><tspan x="-39.21" textLength="14.13" lengthAdjust="spacingAndGlyphs">2</tspan><tspan x="-23.24" textLength="14.66" lengthAdjust="spacingAndGlyphs">0</tspan><tspan x="-7.33" textLength="14.66" lengthAdjust="spacingAndGlyphs">0</tspan><tspan x="8.57" textLength="14.66" lengthAdjust="spacingAndGlyphs">0</tspan><tspan x="24.48" textLength="14.66" lengthAdjust="spacingAndGlyphs">0</tspan></text>
<text y="0" font-size="26.50" transform="translate(690.35,1096.72)"><tspan x="-39.21" textLength="14.13" lengthAdjust="spacingAndGlyphs">2</tspan><tspan x="-22.93" textLength="13.83" lengthAdjust="spacingAndGlyphs">5</tspan><tspan x="-7.33" textLength="14.66" lengthAdjust="spacingAndGlyphs">0</tspan><tspan x="8.57" textLength="14.66" lengthAdjust="spacingAndGlyphs">0</tspan><tspan x="24.48" textLength="14.66" lengthAdjust="spacingAndGlyphs">0</tspan></text>
<text y="0" font-size="26.50" transform="translate(802.21,1096.72)"><tspan x="-38.82" textLength="14.08" lengthAdjust="spacingAndGlyphs">3</tspan><tspan x="-23.24" textLength="14.66" lengthAdjust="spacingAndGlyphs">0</tspan><tspan x="-7.33" textLength="14.66" lengthAdjust="spacingAndGlyphs">0</tspan><tspan x="8.57" textLength="14.66" lengthAdjust="spacingAndGlyphs">0</tspan><tspan x="24.48" textLength="14.66" lengthAdjust="spacingAndGlyphs">0</tspan></text>
<text y="0" font-size="26.50" transform="translate(914.07,1096.72)"><tspan x="-38.82" textLength="14.08" lengthAdjust="spacingAndGlyphs">3</tspan><tspan x="-22.93" textLength="13.83" lengthAdjust="spacingAndGlyphs">5</tspan><tspan x="-7.33" textLength="14.66" lengthAdjust="spacingAndGlyphs">0</tspan><tspan x="8.57" textLength="14.66" lengthAdjust="spacingAndGlyphs">0</tspan><tspan x="24.48" textLength="14.66" lengthAdjust="spacingAndGlyphs">0</tspan></text>
<text y="0" font-size="26.50" transform="translate(1024.93,1096.72)"><tspan x="-39.15" textLength="14.66" lengthAdjust="spacingAndGlyphs">4</tspan><tspan x="-23.24" textLength="14.66" lengthAdjust="spacingAndGlyphs">0</tspan><tspan x="-7.33" textLength="14.66" lengthAdjust="spacingAndGlyphs">0</tspan><tspan x="8.57" textLength="14.66" lengthAdjust="spacingAndGlyphs">0</tspan><tspan x="24.48" textLength="14.66" lengthAdjust="spacingAndGlyphs">0</tspan></text>
<text y="0" font-size="26.50" transform="translate(140.28,1054.70)"><tspan x="-31.45" textLength="15.17" lengthAdjust="spacingAndGlyphs">6</tspan><tspan x="-15.29" textLength="14.66" lengthAdjust="spacingAndGlyphs">0</tspan></text>
<text y="0" font-size="26.50" transform="translate(140.78,931.67)"><tspan x="-31.45" textLength="15.17" lengthAdjust="spacingAndGlyphs">6</tspan><tspan x="-14.97" textLength="13.83" lengthAdjust="spacingAndGlyphs">5</tspan></text>
<text y="0" font-size="26.50" transform="translate(140.28,808.64)"><tspan x="-31.08" textLength="14.34" lengthAdjust="spacingAndGlyphs">7</tspan><tspan x="-15.29" textLength="14.66" lengthAdjust="spacingAndGlyphs">0</tspan></text>
<text y="0" font-size="26.50" transform="translate(140.28,685.61)"><tspan x="-31.08" textLength="14.34" lengthAdjust="spacingAndGlyphs">7</tspan><tspan x="-14.97" textLength="13.83" lengthAdjust="spacingAndGlyphs">5</tspan></text>
<text y="0" font-size="26.50" transform="translate(140.28,562.59)"><tspan x="-31.27" textLength="14.82" lengthAdjust="spacingAndGlyphs">8</tspan><tspan x="-15.29" textLength="14.66" lengthAdjust="spacingAndGlyphs">0</tspan></text>
<text y="0" font-size="26.50" transform="translate(140.78,439.56)"><tspan x="-31.27" textLength="14.82" lengthAdjust="spacingAndGlyphs">8</tspan><tspan x="-14.97" textLength="13.83" lengthAdjust="spacingAndGlyphs">5</tspan></text>
<text y="0" font-size="26.50" transform="translate(140.28,316.53)"><tspan x="-31.51" textLength="15.14" lengthAdjust="spacingAndGlyphs">9</tspan><tspan x="-15.29" textLength="14.66" lengthAdjust="spacingAndGlyphs">0</tspan></text>
<text y="0" font-size="26.50" transform="translate(140.28,192.50)"><tspan x="-31.51" textLength="15.14" lengthAdjust="spacingAndGlyphs">9</tspan><tspan x="-14.97" textLength="13.83" lengthAdjust="spacingAndGlyphs">5</tspan></text>
<text y="0" font-size="41.22" transform="translate(615.00,105.11)"><tspan x="-215.93" textLength="25.20" lengthAdjust="spacingAndGlyphs">B</tspan><tspan x="-189.46" textLength="29.06" lengthAdjust="spacingAndGlyphs">D</tspan><tspan x="-159.28" textLength="26.86" lengthAdjust="spacingAndGlyphs">R</tspan><tspan x="-134.62" textLength="13.96" lengthAdjust="spacingAndGlyphs">-</tspan><tspan x="-120.61" textLength="20.98" lengthAdjust="spacingAndGlyphs">v</tspan><tspan x="-98.03" textLength="36.91" lengthAdjust="spacingAndGlyphs">m</tspan><tspan x="-59.92" textLength="19.49" lengthAdjust="spacingAndGlyphs">a</tspan><tspan x="-36.53" textLength="13.74" lengthAdjust="spacingAndGlyphs">f</tspan><tspan x="-23.90" textLength="11.69" lengthAdjust="spacingAndGlyphs">:</tspan> <tspan x="1.70" textLength="21.98" lengthAdjust="spacingAndGlyphs">2</tspan><tspan x="26.86" textLength="21.78" lengthAdjust="spacingAndGlyphs">1</tspan><tspan x="50.62" textLength="11.69" lengthAdjust="spacingAndGlyphs">.</tspan><tspan x="63.22" textLength="23.60" lengthAdjust="spacingAndGlyphs">6</tspan> <tspan x="100.63" textLength="11.67" lengthAdjust="spacingAndGlyphs">(</tspan><tspan x="115.76" textLength="23.05" lengthAdjust="spacingAndGlyphs">8</tspan><tspan x="141.11" textLength="21.90" lengthAdjust="spacingAndGlyphs">3</tspan><tspan x="164.70" textLength="11.69" lengthAdjust="spacingAndGlyphs">.</tspan><tspan x="178.03" textLength="21.78" lengthAdjust="spacingAndGlyphs">1</tspan><tspan x="204.10" textLength="11.67" lengthAdjust="spacingAndGlyphs">)</tspan></text>
<text y="0" font-size="41.22" transform="translate(615.00,1171.36)"><tspan x="-124.60" textLength="25.20" lengthAdjust="spacingAndGlyphs">B</tspan><tspan x="-97.64" textLength="8.83" lengthAdjust="spacingAndGlyphs">i</tspan><tspan x="-87.23" textLength="13.74" lengthAdjust="spacingAndGlyphs">t</tspan><tspan x="-72.31" textLength="16.47" lengthAdjust="spacingAndGlyphs">r</tspan><tspan x="-55.79" textLength="19.49" lengthAdjust="spacingAndGlyphs">a</tspan><tspan x="-32.18" textLength="13.74" lengthAdjust="spacingAndGlyphs">t</tspan><tspan x="-17.19" textLength="23.36" lengthAdjust="spacingAndGlyphs">e</tspan> <tspan x="19.32" textLength="21.74" lengthAdjust="spacingAndGlyphs">k</tspan><tspan x="42.04" textLength="23.53" lengthAdjust="spacingAndGlyphs">b</tspan><tspan x="66.92" textLength="8.83" lengthAdjust="spacingAndGlyphs">i</tspan><tspan x="77.33" textLength="13.74" lengthAdjust="spacingAndGlyphs">t</tspan><tspan x="91.95" textLength="13.10" lengthAdjust="spacingAndGlyphs">/</tspan><tspan x="106.12" textLength="18.64" lengthAdjust="spacingAndGlyphs">s</tspan></text>
<text y="0" font-size="40.64" transform="translate(62.49,608.00) rotate(-90)"><tspan x="-48.18" textLength="20.98" lengthAdjust="spacingAndGlyphs">v</tspan><tspan x="-25.60" textLength="36.91" lengthAdjust="spacingAndGlyphs">m</tspan><tspan x="12.53" textLength="19.45" lengthAdjust="spacingAndGlyphs">a</tspan><tspan x="36.01" textLength="13.55" lengthAdjust="spacingAndGlyphs">f</tspan></text>
<rect x="830.5" y="975.5" width="238" height="81" rx="5" ry="5" fill="#fff" stroke="#cccccc" stroke-width="1.111" opacity="0.8"/>
<path d="M840.00,995.00 H890.00" stroke="#1f77b4" stroke-width="2.083" stroke-linecap="square"/>
<path d="M840.00,1032.00 H890.00" stroke="#ff7f0e" stroke-width="2.083" stroke-linecap="square"/>
<text y="0" font-size="26.50" transform="translate(909.75,1003.61)"><tspan x="0.56" textLength="15.02" lengthAdjust="spacingAndGlyphs">S</tspan><tspan x="16.42" textLength="14.13" lengthAdjust="spacingAndGlyphs">2</tspan><tspan x="31.80" textLength="8.97" lengthAdjust="spacingAndGlyphs">-</tspan><tspan x="40.44" textLength="16.80" lengthAdjust="spacingAndGlyphs">A</tspan><tspan x="58.02" textLength="14.66" lengthAdjust="spacingAndGlyphs">0</tspan><tspan x="73.84" textLength="14.82" lengthAdjust="spacingAndGlyphs">8</tspan><tspan x="89.23" textLength="8.97" lengthAdjust="spacingAndGlyphs">-</tspan><tspan x="98.78" textLength="14.13" lengthAdjust="spacingAndGlyphs">2</tspan><tspan x="114.50" textLength="15.17" lengthAdjust="spacingAndGlyphs">6</tspan><tspan x="130.97" textLength="13.83" lengthAdjust="spacingAndGlyphs">5</tspan></text>
<text y="0" font-size="26.50" transform="translate(910.25,1040.30)"><tspan x="0.56" textLength="15.02" lengthAdjust="spacingAndGlyphs">S</tspan><tspan x="16.42" textLength="14.13" lengthAdjust="spacingAndGlyphs">2</tspan><tspan x="31.80" textLength="8.97" lengthAdjust="spacingAndGlyphs">-</tspan><tspan x="37.86" textLength="16.66" lengthAdjust="spacingAndGlyphs">T</tspan><tspan x="54.44" textLength="14.66" lengthAdjust="spacingAndGlyphs">0</tspan><tspan x="70.26" textLength="14.82" lengthAdjust="spacingAndGlyphs">8</tspan><tspan x="85.65" textLength="8.97" lengthAdjust="spacingAndGlyphs">-</tspan><tspan x="95.02" textLength="15.02" lengthAdjust="spacingAndGlyphs">E</tspan><tspan x="109.76" textLength="16.66" lengthAdjust="spacingAndGlyphs">T</tspan><tspan x="126.13" textLength="20.76" lengthAdjust="spacingAndGlyphs">M</tspan></text>
</svg>
</body></html>
